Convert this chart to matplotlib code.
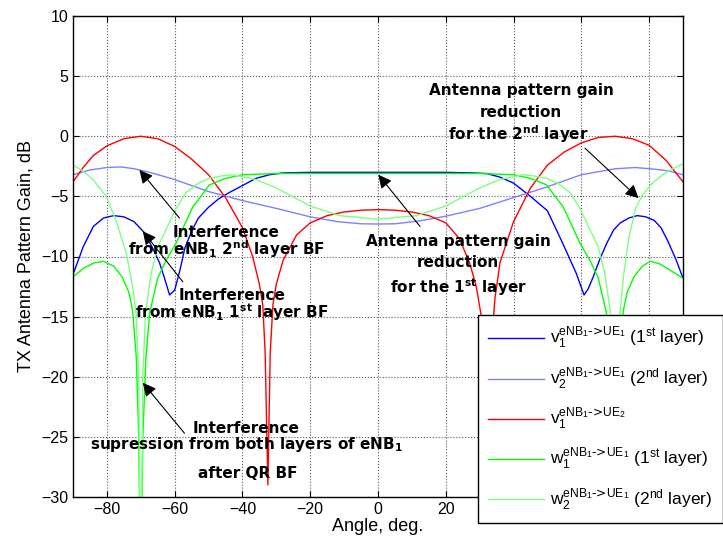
import numpy as np
import matplotlib
matplotlib.use('Agg')
import matplotlib.pyplot as plt

plt.rcParams['font.family'] = ['Liberation Sans', 'DejaVu Sans']
plt.rcParams['mathtext.default'] = 'regular'

# v1 eNB1->UE2 (red)
ang_red = [-90, -87, -84, -80, -75, -70, -65, -60, -55, -50, -45, -40, -37, -35, -34, -33.3,
           -32.5, -31.8, -31, -30, -28, -24, -20, -15, -10, -5, 0, 5, 10, 15, 20, 24, 27, 29,
           30.5, 31.5, 32.5, 33.3, 34.5, 36, 40, 45, 50, 55, 60, 65, 70, 75, 80, 85, 90]
gain_red = [-3.8, -2.6, -1.6, -0.8, -0.2, 0.0, -0.2, -0.85, -1.9, -3.2, -5.1, -7.6, -10.0, -12.3,
            -14.0, -18.0, -29.0, -18.0, -14.0, -12.3, -10.3, -8.2, -7.2, -6.6, -6.3, -6.15, -6.1,
            -6.15, -6.3, -6.6, -7.2, -8.5, -10.5, -12.5, -15.0, -18.0, -27.0, -18.0, -13.5, -10.5,
            -7.1, -4.3, -2.4, -1.3, -0.55, -0.1, 0.0, -0.2, -0.75, -2.0, -3.8]

# v1 eNB1->UE1, 1st layer (blue)
ang_v1 = [-90, -87, -84, -81, -78, -75, -72, -69, -66.5, -64.5, -63, -61.5, -60, -58.5, -57,
          -55, -53, -50, -47, -44, -40, -36, -32, -28, -20, 0, 20, 28, 32, 36, 40, 45, 50, 54.5,
          58.5, 60.8, 62, 63.5, 65.5, 67.5, 69.5, 71.5, 74, 76.5, 79, 81.5, 83.5, 85.5, 88, 90]
gain_v1 = [-11.5, -9.2, -7.5, -6.8, -6.6, -6.7, -7.1, -8.0, -9.3, -10.5, -11.8, -13.2, -12.8,
           -11.2, -9.3, -7.9, -6.8, -5.9, -5.2, -4.7, -4.1, -3.5, -3.2, -3.05, -3.0, -3.0, -3.0,
           -3.05, -3.1, -3.4, -3.9, -5.0, -6.2, -8.9, -11.4, -13.2, -12.7, -11.7, -10.2, -8.9,
           -7.8, -7.2, -6.8, -6.6, -6.7, -7.0, -7.6, -8.7, -10.3, -11.8]

# v2 eNB1->UE1, 2nd layer (light blue)
ang_v2 = [-90, -85, -80, -76, -72, -68, -60, -50, -40, -30, -20, -12, -5, 0, 5, 12, 20, 30, 40,
          50, 60, 70, 76, 82, 86, 90]
gain_v2 = [-3.2, -2.8, -2.6, -2.55, -2.7, -2.95, -3.6, -4.6, -5.35, -6.0, -6.7, -7.1, -7.28, -7.3,
           -7.28, -7.05, -6.65, -6.0, -5.1, -4.2, -3.2, -2.7, -2.6, -2.75, -2.9, -3.2]

# w1 eNB1->UE1, 1st layer (green)
ang_w1 = [-90, -87, -84, -81, -78, -75.5, -73.5, -72.4, -71.3, -70.6, -70, -69.4, -68.5, -67.4,
          -65, -62.5, -59.6, -57, -54.6, -52, -49.8, -45, -40, -35, -30, 0, 30, 35, 40, 45, 49.8,
          52, 54.6, 57, 59.6, 62.5, 65, 67.4, 68.5, 69.4, 70, 70.6, 71.3, 72.4, 73.5, 75.5, 78,
          80.3, 83, 86, 90]
gain_w1 = [-11.7, -11.0, -10.55, -10.4, -10.8, -11.7, -13.0, -14.5, -18.5, -25, -40, -25, -18.5,
           -14.7, -11.8, -10.3, -8.9, -7.3, -5.85, -4.9, -4.05, -3.5, -3.2, -3.15, -3.1, -3.1,
           -3.1, -3.15, -3.2, -3.5, -4.05, -4.9, -5.85, -7.3, -8.9, -10.3, -11.8, -14.7, -18.5,
           -25, -40, -25, -18.5, -14.5, -13.0, -11.7, -10.8, -10.4, -10.6, -11.1, -11.8]

# w2 eNB1->UE1, 2nd layer (light green)
ang_w2 = [-90, -87, -84.1, -80.2, -77.3, -74.3, -72.4, -71.4, -70.6, -70, -69.4, -68.6, -67,
          -65, -62.6, -59.6, -56.7, -53, -49.8, -46, -42.9, -36, -30, -20, -11.4, 0, 11.4, 20,
          30, 36, 42.9, 46, 49.8, 53, 56.7, 59.6, 62.6, 65, 67, 68.6, 69.4, 70, 70.6, 71.4, 72.5,
          74, 76, 78, 81, 84, 87, 90]
gain_w2 = [-2.4, -2.9, -3.6, -5.0, -7.0, -9.7, -12.5, -14.7, -20, -40, -20, -14.7, -11.5, -9.2,
           -7.8, -6.0, -4.7, -3.9, -3.5, -3.3, -3.2, -3.6, -4.3, -5.8, -6.6, -6.9, -6.6, -5.8,
           -4.3, -3.6, -3.2, -3.3, -3.5, -3.9, -4.7, -6.0, -7.8, -9.2, -11.5, -14.7, -20, -40,
           -20, -14.7, -11.5, -8.5, -6.0, -4.9, -3.9, -3.2, -2.7, -2.3]

labels = [r'$v_1^{eNB_1\text{->}UE_1}$ (1$^{st}$ layer)',
          r'$v_2^{eNB_1\text{->}UE_1}$ (2$^{nd}$ layer)',
          r'$v_1^{eNB_1\text{->}UE_2}$',
          r'$w_1^{eNB_1\text{->}UE_1}$ (1$^{st}$ layer)',
          r'$w_2^{eNB_1\text{->}UE_1}$ (2$^{nd}$ layer)']
colors = ['#0000ff', '#7f7fff', '#ff0000', '#00ff00', '#7fff7f']

fig = plt.figure(figsize=(7.23, 5.49), dpi=100)
ax = fig.add_axes([73 / 723, 52 / 549, 610 / 723, 481 / 549])

series = [(ang_v1, gain_v1), (ang_v2, gain_v2), (ang_red, gain_red),
          (ang_w1, gain_w1), (ang_w2, gain_w2)]
handles = []
for (a, g), c, lab in zip(series, colors, labels):
    h, = ax.plot(a, g, color=c, lw=1.0, label=lab)
    handles.append(h)

ax.set_xlim(-90, 90)
ax.set_ylim(-30, 10)
ax.set_xticks(np.arange(-80, 81, 20))
ax.set_yticks(np.arange(-30, 11, 5))
ax.grid(True, ls=':', color='0.35', lw=0.8)
ax.tick_params(direction='in', top=True, right=True, labelsize=11.5, length=4, width=0.8)
for s in ax.spines.values():
    s.set_linewidth(1.0)
ax.set_xlabel('Angle, deg.', fontsize=13, labelpad=1)
ax.set_ylabel('TX Antenna Pattern Gain, dB', fontsize=13, labelpad=5)

# annotations
tk = dict(ha='center', va='baseline', fontsize=11, fontweight='bold', family='DejaVu Sans')
arr = dict(arrowstyle='-|>', color='k', lw=0.8, mutation_scale=20, shrinkA=0, shrinkB=0)

ax.text(-44.8, -8.35, 'Interference', **tk)
ax.text(-44.8, -9.85, r'from eNB$_1$ 2$^{nd}$ layer BF', **tk)
ax.annotate('', xy=(-70.4, -2.8), xytext=(-58.6, -6.8), arrowprops=arr)

ax.text(-43.1, -13.65, 'Interference', **tk)
ax.text(-43.1, -15.15, r'from eNB$_1$ 1$^{st}$ layer BF', **tk)
ax.annotate('', xy=(-69.4, -7.9), xytext=(-57.6, -12.1), arrowprops=arr)

ax.text(23.7, -9.15, 'Antenna pattern gain', **tk)
ax.text(23.7, -10.9, 'reduction', **tk)
ax.text(23.7, -13.0, r'for the 1$^{st}$ layer', **tk)
ax.annotate('', xy=(0.1, -3.2), xytext=(12.4, -7.5), arrowprops=arr)

ax.text(42.2, 3.45, 'Antenna pattern gain', **tk)
ax.text(42.2, 1.6, 'reduction', **tk)
ax.text(41.3, -0.3, r'for the 2$^{nd}$ layer', **tk)
ax.annotate('', xy=(76.9, -5.15), xytext=(61.1, -1.0), arrowprops=arr)

ax.text(-38.9, -24.7, 'Interference', **tk)
ax.text(-38.9, -26.0, r'supression from both layers of eNB$_1$', **tk)
ax.text(-38.5, -28.4, 'after QR BF', **tk)
ax.annotate('', xy=(-69.4, -20.5), xytext=(-57.1, -24.7), arrowprops=arr)

leg = fig.legend(handles=handles, loc='lower left', bbox_to_anchor=(478 / 723, 26 / 549),
                 fontsize=12.5, frameon=True, fancybox=False, framealpha=1,
                 edgecolor='k', handlelength=3.2, handletextpad=0.35, borderpad=0.6,
                 labelspacing=0.82, borderaxespad=0)
leg.get_frame().set_linewidth(1.0)

fig.savefig('out.png', dpi=100)
